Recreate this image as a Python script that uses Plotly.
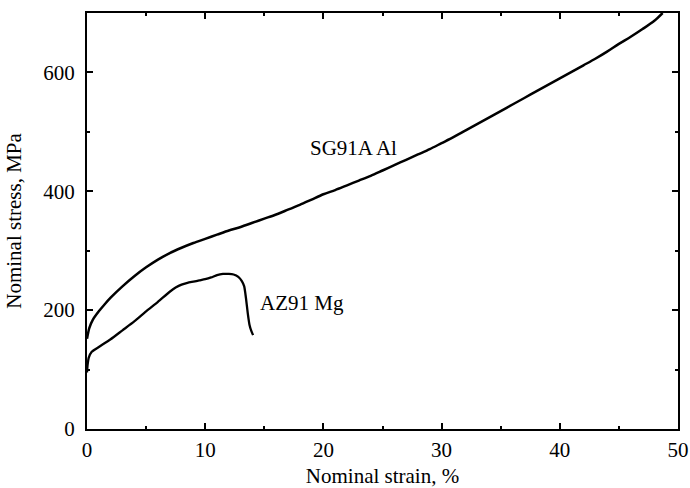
import plotly.graph_objects as go

# SG91A Al curve (strain %, stress MPa)
al_strain = [0.0, 0.2, 0.5, 1.0, 1.5, 2.0, 3.0, 4.0, 5.0, 6.0, 7.0, 8.0, 9.0, 10.0, 11.0, 12.0, 13.0, 14.0, 15.0, 16.0, 17.0, 18.0, 19.0, 20.0, 21.0, 22.0, 23.0, 24.0, 25.0, 26.0, 27.0, 28.0, 29.0, 30.0, 31.0, 32.0, 33.0, 34.0, 35.0, 36.0, 37.0, 38.0, 39.0, 40.0, 41.0, 42.0, 43.0, 44.0, 45.0, 46.0, 47.0, 48.0, 48.7]
al_stress = [152, 170, 184, 198, 210, 221, 240, 257, 272, 285, 296, 305, 313, 320, 327, 334, 340, 347, 354, 361, 369, 377, 386, 395, 402, 410, 418, 426, 435, 444, 453, 462, 471, 481, 491, 502, 513, 524, 535, 546, 557, 568, 579, 590, 601, 612, 623, 635, 648, 660, 673, 687, 700]

# AZ91 Mg curve
mg_strain = [0.0, 0.05, 0.15, 0.4, 1.0, 2.0, 3.0, 4.0, 5.0, 6.0, 7.0, 7.5, 8.0, 8.5, 9.0, 9.5, 10.0, 10.5, 11.0, 11.5, 12.0, 12.4, 12.8, 13.1, 13.3, 13.45, 13.6, 13.75, 13.9, 14.05]
mg_stress = [95, 108, 120, 130, 138, 151, 166, 181, 198, 214, 231, 238, 243, 246, 248, 250, 252, 255, 259, 261, 261, 260, 256, 249, 240, 220, 195, 175, 165, 158]

x_ticks = [0, 10, 20, 30, 40, 50]
y_ticks = [0, 200, 400, 600]

FONT = "Liberation Serif"
FS = 21

fig = go.Figure()
fig.add_trace(go.Scatter(x=al_strain, y=al_stress, mode="lines",
                         line=dict(color="black", width=2.5, shape="spline", smoothing=0.8),
                         showlegend=False))
fig.add_trace(go.Scatter(x=mg_strain, y=mg_stress, mode="lines",
                         line=dict(color="black", width=2.3, shape="spline", smoothing=0.6),
                         showlegend=False))

fig.add_annotation(x=18.7, y=473, text="SG91A Al", showarrow=False, xanchor="left",
                   font=dict(family=FONT, size=FS, color="black"))
fig.add_annotation(x=14.5, y=212, text="AZ91 Mg", showarrow=False, xanchor="left",
                   font=dict(family=FONT, size=FS, color="black"))

axis_common = dict(showline=True, linecolor="black", linewidth=2, mirror="ticks",
                   ticks="inside", ticklen=6, tickwidth=2, tickcolor="black",
                   showgrid=False, zeroline=False,
                   tickfont=dict(family=FONT, size=FS, color="black"))

fig.update_xaxes(range=[0, 50], tickvals=x_ticks,
                 minor=dict(dtick=5, tick0=0, ticks="inside", ticklen=3, tickwidth=2, tickcolor="black", showgrid=False),
                 title=dict(text="Nominal strain, %", font=dict(family=FONT, size=FS, color="black"), standoff=12),
                 ticklabelstandoff=1,
                 **axis_common)
fig.update_yaxes(range=[0, 700], tickvals=y_ticks,
                 minor=dict(dtick=100, tick0=0, ticks="inside", ticklen=3, tickwidth=2, tickcolor="black", showgrid=False),
                 title=dict(text="Nominal stress, MPa", font=dict(family=FONT, size=FS, color="black"), standoff=16),
                 ticklabelstandoff=6,
                 **axis_common)

fig.update_layout(width=690, height=488, plot_bgcolor="white", paper_bgcolor="white",
                  margin=dict(l=87, r=12, t=13, b=59, autoexpand=False))

fig.write_html("out.html", config={"displayModeBar": False},
               post_script="document.body.style.margin='0';")
